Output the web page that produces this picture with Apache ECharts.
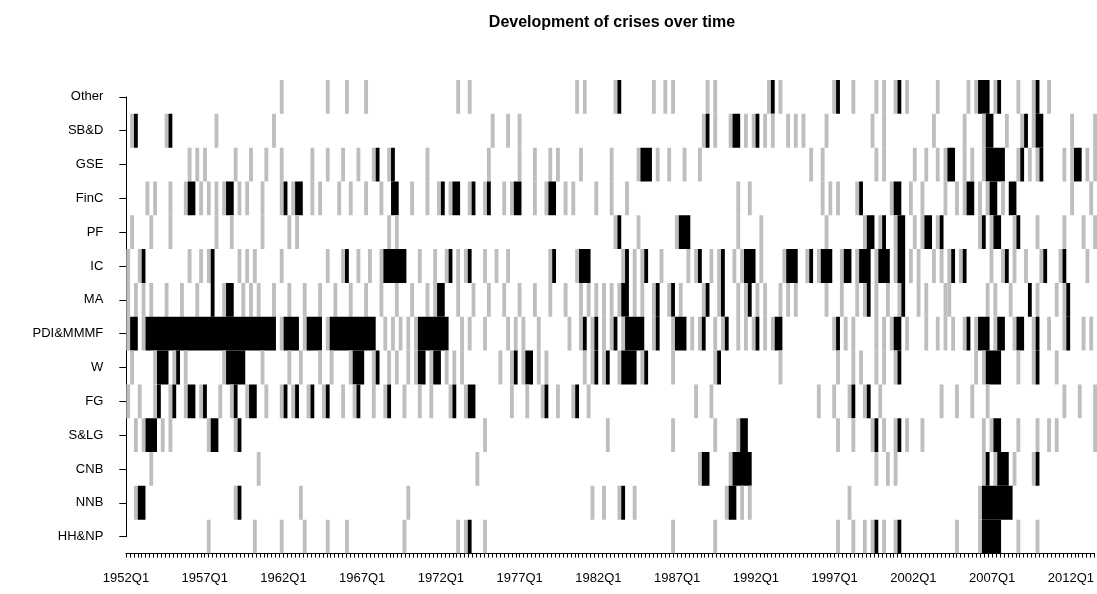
<!DOCTYPE html>
<html><head><meta charset="utf-8">
<script src="https://cdn.jsdelivr.net/npm/echarts@6/dist/echarts.min.js"></script>
<style>html,body{margin:0;padding:0;background:#fff}#c{width:1097px;height:594px}</style>
</head><body><div id="c"></div>
<script>
// ---- data ----
const startYear = 1952;
const nQuarters = 253;      // cells in the picture
const nTicks = 247;         // quarterly ticks drawn on the axis
const quarters = [];
for (let i = 0; i < nQuarters; i++) quarters.push((startYear + Math.floor(i / 4)) + 'Q' + (i % 4 + 1));
const tickLabels = quarters.slice(0, nTicks);

const sectors = ['Other','SB&D','GSE','FinC','PF','IC','MA','PDI&MMMF','W','FG','S&LG','CNB','NNB','HH&NP'];

// quarter index (0 = 1952Q1) + level: g = grey, b = black ; ranges "a-b"
const rowOther = ["40g","52g","57g","62g","86g","89g","117g","119g","127g","128b","137g","140g","142g","151g","153g","167g","168b","170g","184g","185b","189g","195g","197g","200g","201b","203g","211g","219g","221g","222-224b","226g","227b","232g","236g","237b","240g"];
const rowSBD = ["1g","2b","10g","11b","23g","38g","95g","99g","102g","150g","151b","153g","157g","158-159b","161g","163g","164b","166g","168g","172g","174g","176g","182g","194g","197g","210g","218g","223g","224-225b","229g","233g","234b","236g","237-238b","246g","252g"];
const rowGSE = ["16g","18g","20g","28g","32g","36g","40g","48g","52g","56g","60g","64g","65b","68g","69b","78g","94g","102g","106g","110g","112g","118g","126g","133g","134-136b","138g","141g","145g","149g","178g","181g","195g","197g","205g","208g","211g","213g","214-215b","218g","220g","223g","224-228b","232g","233b","235g","237g","238b","244g","246g","247-248b","250g","252g"];
const rowFinC = ["5g","7g","11g","15g","16-17b","19g","21g","23g","25g","26-27b","29g","31g","35g","40g","41b","43g","44-45b","48g","50g","55g","58g","62g","66g","69-70b","74g","78g","81g","82b","84g","85-86b","89g","90b","93g","94b","98g","100g","101-102b","106g","109g","110-111b","114g","116g","122g","126g","130g","159g","162g","181g","183g","185g","190g","191b","199g","200-201b","204g","207g","213g","216g","218g","219-220b","222g","224g","225-226b","228g","230-231b","246g","251g"];
const rowPF = ["1g","6g","11g","23g","27g","35g","42g","44g","68g","70g","127g","128b","133g","143g","144-146b","159g","165g","182g","192g","193-194b","196g","197b","200g","201-202b","205g","207g","208-209b","211g","212b","222g","223b","225g","226-227b","231g","232b","237g","244g","249g","252g"];
const rowIC = ["0g","3g","4b","16g","19g","21g","22b","29g","31g","33g","40g","52g","56g","57b","60g","63g","66g","67-72b","76g","80g","83g","84b","86g","88g","89b","93g","96g","99g","110g","111b","117g","118-120b","129g","130b","132g","134g","135b","139g","146g","148g","149b","152g","154g","155b","158g","160g","161-163b","165g","171g","172-174b","177g","178b","180g","181-183b","186g","187-188b","190g","191-193b","195g","196-198b","200g","201-202b","204g","206g","210g","212g","214g","215b","217g","218b","225g","228g","229b","231g","234g","238g","239b","243g","244b","250g"];
const rowMA = ["0g","2g","4g","6g","10g","14g","18g","22b","25g","26-27b","30g","32g","34g","38g","42g","46g","50g","54g","58g","62g","66g","70g","74g","78g","80g","81-82b","86g","90g","94g","98g","102g","106g","110g","114g","118g","120g","122g","124g","126g","128g","129-130b","132g","134g","137g","138b","141g","142b","144g","150g","151b","154g","155b","159g","161g","162b","164g","166g","170g","172g","174g","182g","186g","190g","192g","193b","195g","198g","201g","202b","206g","208g","213g","214g","224g","226g","230g","235b","237g","242g","244g","245b"];
const rowPDI = ["0g","1-2b","4g","5-38b","40g","41-44b","46g","47-50b","52g","53-64b","67g","69g","71g","73g","75g","76-83b","87g","89g","93g","99g","101g","103g","107g","115g","118g","119b","121g","122b","124g","126g","127b","129g","130-134b","137g","138b","142g","143-145b","147g","149g","150b","153g","155g","156b","159g","161g","163g","164b","166g","168g","169-170b","184g","185b","187g","189g","195g","197g","199g","200-201b","203g","208g","211g","213g","215g","218g","219b","221g","222-224b","226g","227-228b","231g","232-233b","236g","237b","240g","244g","245b","249g","251g"];
const rowW = ["1g","7g","8-10b","12g","13b","15g","25g","26-30b","35g","42g","45g","50g","53g","58g","59-61b","64g","65b","68g","70g","73g","75g","76-77b","79g","80-81b","83g","85g","87g","97g","100g","101b","103g","104-105b","107g","109g","119g","121g","122b","124g","125b","128g","129-132b","134g","135b","142g","153g","154b","170g","185g","189g","191g","195g","197g","200g","201b","221g","223g","224-227b","232g","236g","237b","242g"];
const rowFG = ["0g","3g","7g","8b","11g","12b","15g","16-17b","19g","20b","24g","27g","28b","31g","32-33b","36g","40g","41b","43g","44b","47g","48b","51g","52b","56g","59g","60b","64g","67g","68b","72g","76g","79g","84g","85b","88g","89-90b","100g","104g","108g","109b","112g","116g","117b","120g","148g","152g","180g","184g","188g","189b","192g","193b","196g","212g","216g","220g","224g","244g","248g","252g"];
const rowSLG = ["2g","4g","5-7b","9g","11g","21g","22-23b","28g","29b","93g","125g","142g","153g","159g","160-161b","185g","189g","194g","195b","197g","200g","201b","203g","207g","223g","225g","226-227b","232g","237g","240g","242g","252g"];
const rowCNB = ["6g","34g","91g","149g","150-151b","157g","158-162b","195g","198g","200g","223g","224b","226g","227-229b","231g","236g","237b"];
const rowNNB = ["2g","3-4b","28g","29b","45g","73g","121g","124g","128g","129b","132g","156g","157-158b","160g","162g","188g","222g","223-230b"];
const rowHHNP = ["21g","33g","40g","46g","52g","57g","72g","86g","88g","89b","93g","142g","153g","185g","189g","192g","194g","195b","197g","200g","201b","216g","222g","223-227b","232g","237g"];

const rows = [rowOther,rowSBD,rowGSE,rowFinC,rowPF,rowIC,rowMA,rowPDI,rowW,rowFG,rowSLG,rowCNB,rowNNB,rowHHNP];

// ---- build runs ----
const runs = [];
rows.forEach((spec, r) => {
  spec.forEach(tok => {
    const m = tok.match(/^(\d+)(?:-(\d+))?([gb])$/);
    const s = +m[1], e = m[2] ? +m[2] : s;
    runs.push([s, e, r, m[3] === 'b' ? 2 : 1]);
  });
});

const FONT = '"Liberation Sans", Arial, Helvetica, sans-serif';
const chart = echarts.init(document.getElementById('c'), null, {renderer: 'canvas'});
chart.setOption({
  animation: false,
  backgroundColor: '#fff',
  title: {
    text: 'Development of crises over time',
    left: 607, top: 10, textAlign: 'center',
    textStyle: {fontFamily: FONT, fontWeight: 'bold', fontSize: 16, color: '#000'}
  },
  grid: [
    {left: 126.3, top: 80, width: 972.5, height: 473.5},   // cells
    {left: 126, top: 80, width: 970.7, height: 473.5},     // x ticks
    {left: 126.3, top: 96.9, width: 972.5, height: 439.8}  // y ticks
  ],
  xAxis: [
    {gridIndex: 0, type: 'category', data: quarters, boundaryGap: true,
     axisLine: {show: false}, axisTick: {show: false}, axisLabel: {show: false}, splitLine: {show: false}},
    {gridIndex: 1, type: 'category', data: tickLabels, boundaryGap: false, position: 'bottom',
     axisLine: {show: true, lineStyle: {color: '#000', width: 1}},
     axisTick: {show: true, interval: 0, length: 4, lineStyle: {color: '#000'}},
     axisLabel: {interval: 19, color: '#000', fontFamily: FONT, fontSize: 13, margin: 18},
     splitLine: {show: false}},
    {gridIndex: 2, type: 'value', show: false}
  ],
  yAxis: [
    {gridIndex: 0, type: 'category', data: sectors, inverse: true, boundaryGap: true, show: false},
    {gridIndex: 1, type: 'value', show: false},
    {gridIndex: 2, type: 'category', data: sectors, inverse: true, boundaryGap: false, offset: 6,
     axisLine: {show: true, lineStyle: {color: '#000', width: 1}},
     axisTick: {show: true, length: 7, lineStyle: {color: '#000'}},
     axisLabel: {color: '#000', fontFamily: FONT, fontSize: 13, margin: 17},
     splitLine: {show: false}}
  ],
  series: [{
    type: 'custom',
    xAxisIndex: 0, yAxisIndex: 0,
    data: runs,
    encode: {x: [0, 1], y: 2},
    clip: true,
    renderItem: function (params, api) {
      const s = api.value(0), e = api.value(1), r = api.value(2), t = api.value(3);
      const p0 = api.coord([s, r]);
      const p1 = api.coord([e, r]);
      const sz = api.size([1, 1]);
      return {
        type: 'rect',
        shape: {x: p0[0] - sz[0] / 2, y: p0[1] - sz[1] / 2, width: p1[0] - p0[0] + sz[0], height: sz[1]},
        style: {fill: t === 2 ? '#000000' : '#BEBEBE'}
      };
    }
  }]
});
</script></body></html>
